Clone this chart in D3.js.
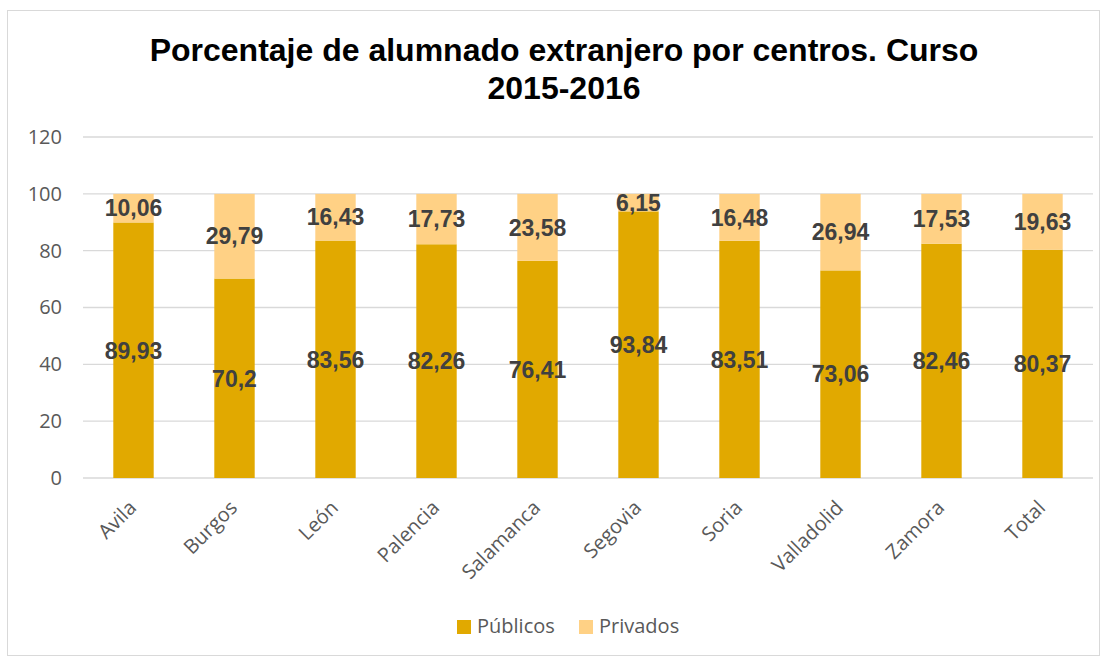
<!DOCTYPE html>
<html><head><meta charset="utf-8">
<script src="https://cdn.jsdelivr.net/npm/d3@7"></script>
<style>body{margin:0;background:#fff}svg{display:block}</style>
</head><body>
<svg id="c" width="1108" height="659"></svg>
<script>
const categories = ["Avila","Burgos","León","Palencia","Salamanca","Segovia","Soria","Valladolid","Zamora","Total"];
const publicos = [89.93,70.2,83.56,82.26,76.41,93.84,83.51,73.06,82.46,80.37];
const privados = [10.06,29.79,16.43,17.73,23.58,6.15,16.48,26.94,17.53,19.63];
const publicosLabels = ["89,93","70,2","83,56","82,26","76,41","93,84","83,51","73,06","82,46","80,37"];
const privadosLabels = ["10,06","29,79","16,43","17,73","23,58","6,15","16,48","26,94","17,53","19,63"];
const yTicks = [0,20,40,60,80,100,120];
const seriesNames = ["Públicos","Privados"];
const colors = ["#E1A900","#FFD185"];

const svg = d3.select("#c");
svg.append("rect").attr("x",7.5).attr("y",10.5).attr("width",1092).attr("height",645)
  .attr("fill","#fff").attr("stroke","#d9d9d9");

const x = d3.scaleBand().domain(categories).range([83,1093]).paddingInner(0.6).paddingOuter(0.3);
const y = d3.scaleLinear().domain([0,120]).range([478,137]);

// gridlines
svg.append("g").selectAll("line").data(yTicks).join("line")
  .attr("x1",83).attr("x2",1093).attr("y1",d=>y(d)).attr("y2",d=>y(d))
  .attr("stroke","#d9d9d9").attr("stroke-width",1.3);

// y axis labels
const ya = svg.append("g").attr("transform","translate(62,0)")
  .call(d3.axisLeft(y).tickValues(yTicks).tickSize(0).tickPadding(0));
ya.select(".domain").remove();
ya.selectAll("text").attr("font-family","Open Sans, sans-serif").attr("font-size",20).attr("fill","#595959");

const data = categories.map((c,i)=>({cat:c, Públicos:publicos[i], Privados:privados[i], i}));
const stack = d3.stack().keys(seriesNames)(data);

stack.forEach((s,si)=>{
  svg.append("g").selectAll("rect").data(s).join("rect")
    .attr("x",d=>x(d.data.cat)).attr("width",x.bandwidth())
    .attr("y",d=>y(d[1])).attr("height",d=>y(d[0])-y(d[1]))
    .attr("fill",colors[si]);
});

stack.forEach((s,si)=>{
  const labs = si===0?publicosLabels:privadosLabels;
  svg.append("g").selectAll("text").data(s).join("text")
    .attr("x",d=>x(d.data.cat)+x.bandwidth()/2)
    .attr("y",d=>y((d[0]+d[1])/2))
    .attr("dy","0.36em")
    .attr("text-anchor","middle")
    .attr("font-family","Liberation Sans, Arial, sans-serif")
    .attr("font-weight","bold").attr("font-size",23).attr("fill","#404040")
    .text((d,i)=>labs[i]);
});

// x labels
svg.append("g").selectAll("text").data(categories).join("text")
  .attr("transform",d=>`translate(${x(d)+x.bandwidth()/2+4},${509}) rotate(-45)`)
  .attr("text-anchor","end")
  .attr("font-family","Open Sans, sans-serif").attr("font-size",20).attr("fill","#595959")
  .text(d=>d);

// title
const title = svg.append("text").attr("text-anchor","middle")
  .attr("font-family","Liberation Sans, Arial, sans-serif").attr("font-weight","bold")
  .attr("font-size",32).attr("fill","#000");
title.append("tspan").attr("x",564).attr("y",61).text("Porcentaje de alumnado extranjero por centros. Curso");
title.append("tspan").attr("x",564).attr("y",99).text("2015-2016");

// legend
const leg = svg.append("g");
const legX = [457,579];
seriesNames.forEach((n,i)=>{
  leg.append("rect").attr("x",legX[i]).attr("y",620).attr("width",14).attr("height",14).attr("fill",colors[i]);
  leg.append("text").attr("x",legX[i]+20).attr("y",633)
    .attr("font-family","Open Sans, sans-serif").attr("font-size",20).attr("fill","#595959").text(n);
});
</script>
</body></html>
